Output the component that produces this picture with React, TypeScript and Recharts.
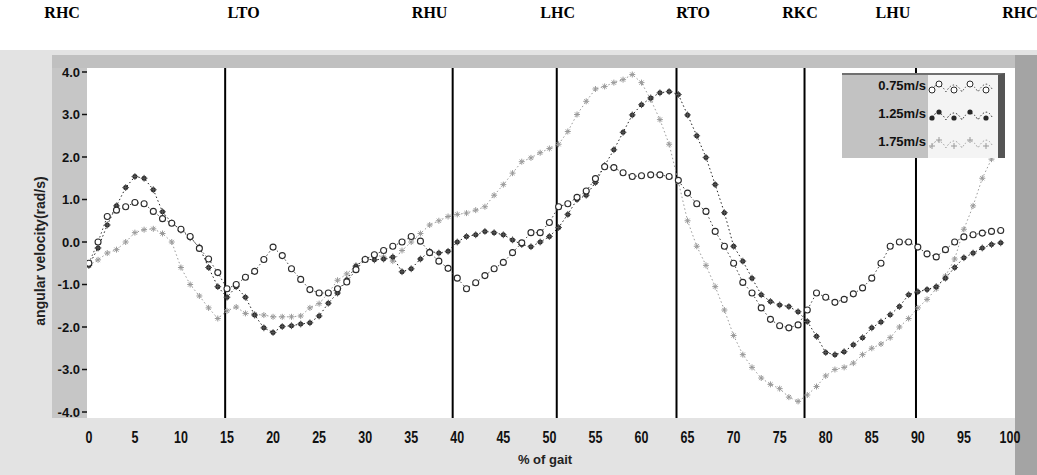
import React from 'react';
import { ComposedChart, Line, XAxis, YAxis, CartesianGrid, ReferenceLine, Legend } from 'recharts';

const gaitPct = [0,1,2,3,4,5,6,7,8,9,10,11,12,13,14,15,16,17,18,19,20,21,22,23,24,25,26,27,28,29,30,31,32,33,34,35,36,37,38,39,40,41,42,43,44,45,46,47,48,49,50,51,52,53,54,55,56,57,58,59,60,61,62,63,64,65,66,67,68,69,70,71,72,73,74,75,76,77,78,79,80,81,82,83,84,85,86,87,88,89,90,91,92,93,94,95,96,97,98,99];

const vel075 = [-0.5,0.0,0.6,0.75,0.83,0.93,0.9,0.72,0.55,0.44,0.3,0.13,-0.15,-0.4,-0.72,-1.1,-1.0,-0.83,-0.69,-0.41,-0.12,-0.32,-0.63,-0.88,-1.12,-1.2,-1.2,-1.1,-0.94,-0.65,-0.41,-0.3,-0.2,-0.1,0.0,0.13,0.02,-0.25,-0.45,-0.62,-0.85,-1.1,-0.96,-0.79,-0.63,-0.48,-0.25,-0.02,0.22,0.22,0.46,0.83,0.9,1.05,1.2,1.49,1.77,1.75,1.63,1.54,1.56,1.58,1.58,1.54,1.45,1.15,0.9,0.72,0.25,-0.1,-0.5,-0.95,-1.2,-1.55,-1.82,-1.97,-2.02,-1.95,-1.6,-1.2,-1.3,-1.42,-1.35,-1.22,-1.08,-0.85,-0.5,-0.1,0.0,0.0,-0.12,-0.28,-0.35,-0.18,0.0,0.12,0.17,0.21,0.25,0.27];

const vel125 = [-0.55,-0.14,0.4,0.85,1.28,1.54,1.5,1.23,0.71,0.45,0.28,0.1,-0.12,-0.6,-1.05,-1.3,-1.05,-1.3,-1.72,-2.02,-2.13,-1.99,-1.97,-1.93,-1.9,-1.74,-1.44,-1.2,-0.89,-0.57,-0.4,-0.42,-0.4,-0.35,-0.7,-0.63,-0.4,-0.22,-0.26,-0.22,0.0,0.13,0.17,0.25,0.22,0.17,0.05,-0.06,-0.11,0.0,0.13,0.34,0.65,1.0,1.1,1.4,1.8,2.17,2.58,2.99,3.23,3.39,3.51,3.54,3.47,2.99,2.5,1.99,1.35,0.69,-0.1,-0.45,-0.85,-1.24,-1.4,-1.48,-1.52,-1.64,-1.87,-2.22,-2.6,-2.65,-2.58,-2.42,-2.25,-2.02,-1.88,-1.71,-1.52,-1.24,-1.17,-1.12,-1.05,-0.85,-0.6,-0.37,-0.26,-0.14,-0.06,-0.02];

const vel175 = [-0.55,-0.42,-0.26,-0.18,0.0,0.22,0.29,0.31,0.2,0.0,-0.6,-1.0,-1.27,-1.55,-1.8,-1.62,-1.53,-1.68,-1.7,-1.72,-1.76,-1.76,-1.76,-1.74,-1.55,-1.45,-1.2,-0.9,-0.75,-0.55,-0.4,-0.3,-0.35,-0.45,-0.2,0.0,0.2,0.4,0.5,0.6,0.65,0.68,0.75,0.83,1.1,1.35,1.62,1.89,1.98,2.1,2.2,2.3,2.6,3.0,3.31,3.6,3.66,3.75,3.82,3.94,3.75,3.35,2.88,2.3,1.42,0.5,-0.1,-0.55,-1.05,-1.6,-2.2,-2.65,-2.95,-3.2,-3.35,-3.45,-3.65,-3.75,-3.6,-3.4,-3.15,-3.0,-2.95,-2.85,-2.65,-2.5,-2.4,-2.25,-2.0,-1.8,-1.55,-1.35,-1.1,-0.8,-0.4,0.3,0.85,1.5,1.95,2.2];

const seriesNames = ['0.75m/s', '1.25m/s', '1.75m/s'];
const eventLinePct = [14.8, 39.5, 50.8, 63.8, 77.7, 89.8];
const eventNames = ['RHC', 'LTO', 'RHU', 'LHC', 'RTO', 'RKC', 'LHU', 'RHC'];
const eventLabelPct = [-2.9, 16.8, 37.0, 50.9, 65.6, 77.2, 87.3, 101.1];
const xTicks = [0, 5, 10, 15, 20, 25, 30, 35, 40, 45, 50, 55, 60, 65, 70, 75, 80, 85, 90, 95, 100];
const yTicks = [-4, -3, -2, -1, 0, 1, 2, 3, 4];

const data = gaitPct.map((p, i) => ({ pct: p, v075: vel075[i], v125: vel125[i], v175: vel175[i] }));

const OpenCircle = (props: any) => {
  const { cx, cy, index } = props;
  if (cx == null || cy == null) return <g key={`oc${index}`} />;
  return <circle key={`oc${index}`} cx={cx} cy={cy} r={3} fill="#ffffff" stroke="#2b2b2b" strokeWidth={1.1} />;
};

const FilledStar = (props: any) => {
  const { cx, cy, index } = props;
  if (cx == null || cy == null) return <g key={`fs${index}`} />;
  return (
    <g key={`fs${index}`}>
      <circle cx={cx} cy={cy} r={2.5} fill="#262626" />
      <path d={`M${cx - 3.4},${cy} L${cx + 3.4},${cy} M${cx},${cy - 3.4} L${cx},${cy + 3.4}`} stroke="#555" strokeWidth={1} />
    </g>
  );
};

const GrayStar = (props: any) => {
  const { cx, cy, index } = props;
  if (cx == null || cy == null) return <g key={`gs${index}`} />;
  const s = 3;
  return (
    <path
      key={`gs${index}`}
      d={`M${cx - s},${cy} L${cx + s},${cy} M${cx},${cy - s} L${cx},${cy + s} M${cx - s * 0.7},${cy - s * 0.7} L${cx + s * 0.7},${cy + s * 0.7} M${cx - s * 0.7},${cy + s * 0.7} L${cx + s * 0.7},${cy - s * 0.7}`}
      stroke="#9a9a9a"
      strokeWidth={1}
    />
  );
};

const XTick = (props: any) => {
  const { x, y, payload } = props;
  return (
    <g transform={`translate(${x},${y})`}>
      <text x={0} y={0} dy={15} textAnchor="middle" fontSize={16} fontWeight="bold" fontFamily="Liberation Sans, Arial, sans-serif" fill="#111" transform="scale(0.78,1)">
        {payload.value}
      </text>
    </g>
  );
};

const sampleWave = (cy: number) =>
  `M2,${cy + 5} Q10,${cy - 9} 18,${cy + 5} Q26,${cy - 9} 34,${cy + 5} Q42,${cy - 9} 50,${cy + 5} Q58,${cy - 9} 64,${cy + 2}`;

const LegendBox = () => {
  const rows = [12, 40, 68];
  return (
    <div style={{ width: 163, height: 85, boxSizing: 'border-box', background: '#c2c2c2', borderRight: '7px solid #555', borderTop: '2px solid #707070', display: 'flex', fontFamily: 'Liberation Sans, Arial, sans-serif' }}>
      <div style={{ width: 86, position: 'relative' }}>
        {seriesNames.map((n, i) => (
          <div key={n} style={{ position: 'absolute', right: 2, top: rows[i] - 9, fontSize: 13, fontWeight: 'bold', color: '#111', lineHeight: '16px' }}>{n}</div>
        ))}
      </div>
      <svg width={70} height={83} style={{ background: '#f4f4f4', display: 'block' }}>
        <path d={sampleWave(rows[0])} fill="none" stroke="#444" strokeDasharray="1.5 2" />
        <path d={sampleWave(rows[1])} fill="none" stroke="#222" strokeDasharray="1.5 2" />
        <path d={sampleWave(rows[2])} fill="none" stroke="#999" strokeDasharray="1.5 2" />
        {[4, 11, 26, 42, 58].map((x, k) => (
          <circle key={`lo${k}`} cx={x} cy={rows[0] + (k % 2 === 0 ? 3 : -3)} r={3} fill="#fff" stroke="#2b2b2b" />
        ))}
        {[4, 11, 26, 42, 58].map((x, k) => (
          <circle key={`lf${k}`} cx={x} cy={rows[1] + (k % 2 === 0 ? 3 : -3)} r={2.6} fill="#262626" />
        ))}
        {[4, 11, 26, 42, 58].map((x, k) => {
          const cy = rows[2] + (k % 2 === 0 ? 3 : -3);
          return <path key={`lg${k}`} d={`M${x - 3},${cy} L${x + 3},${cy} M${x},${cy - 3} L${x},${cy + 3}`} stroke="#9a9a9a" />;
        })}
      </svg>
    </div>
  );
};

export default function App() {
  return (
    <div style={{ position: 'absolute', left: 0, top: 0, width: 1037, height: 475, background: '#ffffff', overflow: 'hidden' }}>
      <div style={{ position: 'absolute', left: 0, top: 50, width: 1037, height: 425, background: '#e3e3e3' }} />
      <div style={{ position: 'absolute', left: 52, top: 55, width: 36, height: 363, background: '#c6c6c6' }} />
      <div style={{ position: 'absolute', left: 52, top: 55, width: 963, height: 13, background: '#c0c0c0' }} />
      <div style={{ position: 'absolute', left: 1015, top: 55, width: 22, height: 420, background: '#a4a4a4' }} />
      <div style={{ position: 'absolute', left: 0, top: 0 }}>
        <ComposedChart width={1037} height={475} data={data} margin={{ top: 68, right: 22, bottom: 27, left: 27 }}>
          <CartesianGrid fill="#ffffff" stroke="transparent" />
          <XAxis
            dataKey="pct"
            type="number"
            domain={[-0.2, 100.55]}
            ticks={xTicks}
            tick={<XTick />}
            tickLine={false}
            axisLine={false}
            tickSize={0}
            tickMargin={10}
            height={30}
            interval={0}
            allowDataOverflow
            label={{ value: '% of gait', position: 'bottom', offset: 7, dx: -6, fontSize: 13, fontWeight: 'bold', fill: '#222', fontFamily: 'Liberation Sans, Arial, sans-serif' }}
          />
          <YAxis
            type="number"
            domain={[-4.141, 4.094]}
            ticks={yTicks}
            width={60}
            axisLine={false}
            tickSize={5}
            tickMargin={2}
            tickLine={{ stroke: '#111', strokeWidth: 1.5 }}
            tickFormatter={(v: number) => v.toFixed(1)}
            tick={{ fontSize: 13, fontWeight: 'bold', fill: '#111', fontFamily: 'Liberation Sans, Arial, sans-serif' }}
            allowDataOverflow
            interval={0}
            label={{ value: 'angular velocity(rad/s)', angle: -90, position: 'center', dx: -17, dy: 8, fontSize: 14, fontWeight: 'bold', fill: '#222', fontFamily: 'Liberation Sans, Arial, sans-serif' }}
          />
          {eventLinePct.map((x, i) => (
            <ReferenceLine key={`ev${i}`} x={x} stroke="#000" strokeWidth={2} />
          ))}
          {eventNames.map((n, i) => (
            <ReferenceLine
              key={`lab${i}`}
              x={eventLabelPct[i]}
              stroke="none"
              ifOverflow="visible"
              label={{ value: n, position: 'top', offset: 50, fill: '#000', fontSize: 16, fontWeight: 'bold', fontFamily: 'Liberation Serif, serif' }}
            />
          ))}
          <Line type="linear" dataKey="v175" name={seriesNames[2]} stroke="#9a9a9a" strokeWidth={1} strokeDasharray="1.5 2.5" dot={<GrayStar />} isAnimationActive={false} />
          <Line type="linear" dataKey="v125" name={seriesNames[1]} stroke="#222" strokeWidth={1} strokeDasharray="1.5 2.5" dot={<FilledStar />} isAnimationActive={false} />
          <Line type="linear" dataKey="v075" name={seriesNames[0]} stroke="#444" strokeWidth={1} strokeDasharray="1.5 2.5" dot={<OpenCircle />} isAnimationActive={false} />
          <Legend
            layout="vertical"
            align="center"
            verticalAlign="middle"
            content={() => <LegendBox />}
            wrapperStyle={{ left: 842, top: 73, width: 163, height: 85 }}
          />
        </ComposedChart>
      </div>
    </div>
  );
}
